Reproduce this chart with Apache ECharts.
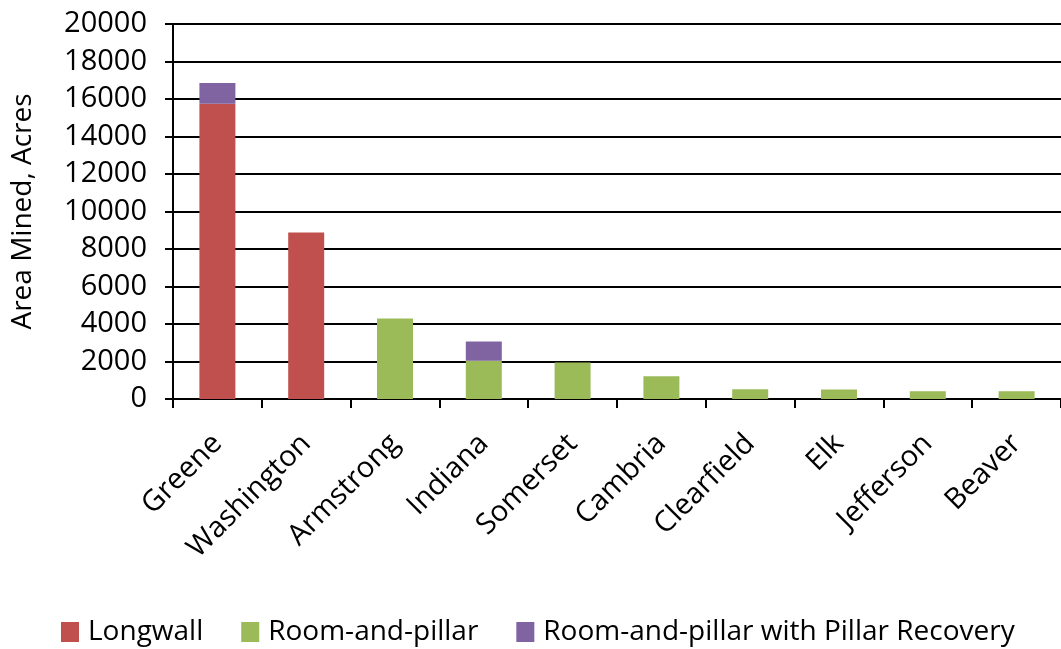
<!DOCTYPE html>
<html>
<head>
<meta charset="utf-8">
<script src="https://cdn.jsdelivr.net/npm/echarts@6/dist/echarts.min.js"></script>
<style>
  html, body { margin: 0; padding: 0; background: #fff; }
  #main { width: 1061px; height: 649px; }
</style>
</head>
<body>
<div id="main"></div>
<script>
  // counties, area mined in acres
  var counties = ['Greene', 'Washington', 'Armstrong', 'Indiana', 'Somerset', 'Cambria', 'Clearfield', 'Elk', 'Jefferson', 'Beaver'];
  var longwall = [15750, 8880, '-', '-', '-', '-', '-', '-', '-', '-'];
  var roomPillar = ['-', '-', 4290, 2040, 1950, 1220, 515, 510, 410, 410];
  var pillarRecovery = [1100, '-', '-', 1030, '-', '-', '-', '-', '-', '-'];
  var yTicks = [0, 2000, 4000, 6000, 8000, 10000, 12000, 14000, 16000, 18000, 20000];

  var font = 'Open Sans';
  var myChart = echarts.init(document.getElementById('main'));

  myChart.setOption({
    animation: false,
    textStyle: { fontFamily: font, color: '#000' },
    color: ['#C0504D', '#9BBB59', '#8064A2'],
    legend: {
      bottom: -2,
      left: 56,
      itemWidth: 18,
      itemHeight: 20,
      itemGap: 38,
      icon: 'rect',
      textStyle: { fontSize: 28, color: '#000', fontFamily: font, padding: [0, 0, 0, 4] },
      data: ['Longwall', 'Room-and-pillar', 'Room-and-pillar with Pillar Recovery']
    },
    grid: { left: 173, top: 24, width: 896, height: 375 },
    xAxis: {
      type: 'category',
      data: counties,
      axisLine: { lineStyle: { color: '#000', width: 2 } },
      axisTick: { show: true, length: 9, lineStyle: { color: '#000', width: 2 } },
      axisLabel: { rotate: 45, fontSize: 29, color: '#000', margin: 40, interval: 0 }
    },
    yAxis: {
      type: 'value',
      min: yTicks[0],
      max: yTicks[yTicks.length - 1],
      interval: 2000,
      name: 'Area Mined, Acres',
      nameLocation: 'middle',
      nameGap: 136,
      nameTextStyle: { fontSize: 28, color: '#000' },
      axisLine: { show: true, lineStyle: { color: '#000', width: 2 } },
      axisTick: { show: true, length: 8, lineStyle: { color: '#000', width: 2 } },
      axisLabel: { fontSize: 29, color: '#000', margin: 26, formatter: function (v) { return String(v); } },
      splitLine: { lineStyle: { color: '#000', width: 2 } }
    },
    series: [
      { name: 'Longwall', type: 'bar', stack: 'a', barWidth: 36, data: longwall },
      { name: 'Room-and-pillar', type: 'bar', stack: 'a', barWidth: 36, data: roomPillar },
      { name: 'Room-and-pillar with Pillar Recovery', type: 'bar', stack: 'a', barWidth: 36, data: pillarRecovery }
    ]
  });
</script>
</body>
</html>
